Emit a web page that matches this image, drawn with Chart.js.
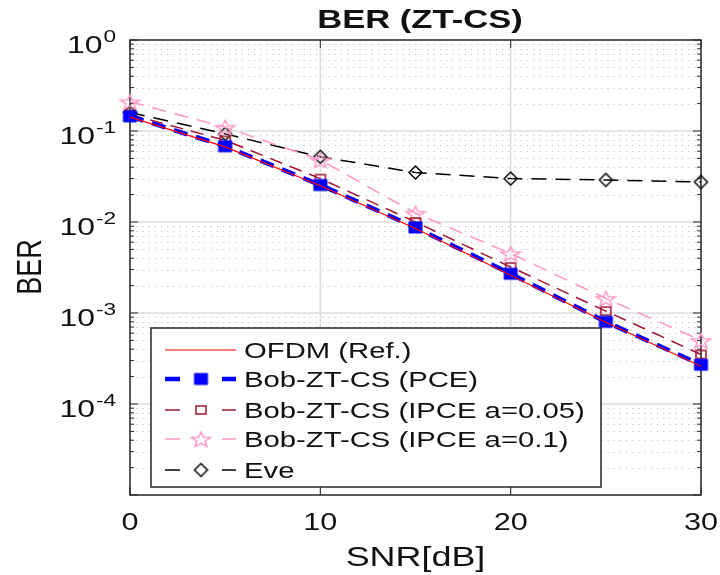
<!DOCTYPE html>
<html>
<head>
<meta charset="utf-8">
<script src="https://cdn.jsdelivr.net/npm/chart.js@4.4.0/dist/chart.umd.min.js"></script>
<style>
  body { margin: 0; background: #fff; }
  #wrap { width: 720px; height: 575px; }
</style>
</head>
<body>
<div id="wrap"><canvas id="myChart"></canvas></div>
<script>
// values
const snr = [0, 5, 10, 15, 20, 25, 30];
const berOfdm = [0.142, 0.067, 0.025, 0.0085, 0.0026, 0.00079, 0.00026];
const berPce = [0.145, 0.068, 0.0255, 0.0087, 0.0027, 0.0008, 0.00027];
const berIpce05 = [0.152, 0.079, 0.030, 0.0100, 0.0032, 0.00105, 0.00035];
const berIpce1 = [0.21, 0.11, 0.048, 0.0125, 0.0045, 0.00145, 0.0005];
const berEve = [0.16, 0.093, 0.052, 0.035, 0.030, 0.029, 0.0275];
const seriesNames = ['OFDM (Ref.)', 'Bob-ZT-CS (PCE)', 'Bob-ZT-CS (IPCE a=0.05)', 'Bob-ZT-CS (IPCE a=0.1)', 'Eve'];
const xTicks = [0, 10, 20, 30];
const yTickExp = [0, -1, -2, -3, -4];

const SX = 1.33; // the figure text is stretched sideways
const FONT = '"Liberation Sans", Arial, Helvetica, sans-serif';

function makeMarker(kind, w, h, color, lw) {
  const c = document.createElement('canvas');
  c.width = w + 4; c.height = h + 4;
  const g = c.getContext('2d');
  const cx = c.width / 2, cy = c.height / 2;
  g.strokeStyle = color; g.fillStyle = color; g.lineWidth = lw;
  g.beginPath();
  if (kind === 'square') {
    g.rect(cx - w / 2, cy - h / 2, w, h);
  } else if (kind === 'diamond') {
    g.moveTo(cx, cy - h / 2); g.lineTo(cx + w / 2, cy); g.lineTo(cx, cy + h / 2); g.lineTo(cx - w / 2, cy);
    g.closePath();
  } else if (kind === 'star') {
    for (let i = 0; i < 10; i++) {
      const r = i % 2 === 0 ? 1 : 0.42;
      const ang = -Math.PI / 2 + i * Math.PI / 5;
      const px = cx + Math.cos(ang) * r * w / 2;
      const py = cy + 1 + Math.sin(ang) * r * h / 2 * 1.05;
      if (i === 0) g.moveTo(px, py); else g.lineTo(px, py);
    }
    g.closePath();
  }
  if (kind === 'fill') { g.rect(cx - w / 2, cy - h / 2, w, h); g.fill(); }
  g.stroke();
  return c;
}

const mkBlue = makeMarker('fill', 13, 11, '#0000ff', 1);
const mkRed = makeMarker('square', 10, 8, '#a2142f', 1.5);
const mkStar = makeMarker('star', 20, 15, '#ff99c8', 1.5);
const mkDia = makeMarker('diamond', 13, 13, '#000000', 1.5);

function pts(vals) { return snr.map((s, i) => ({x: s, y: vals[i]})); }

function txt(ctx, s, x, y, size, align, bold) {
  ctx.save();
  ctx.translate(x, y);
  ctx.scale(SX, 1);
  ctx.font = (bold ? 'bold ' : '') + size + 'px ' + FONT;
  ctx.textAlign = align;
  ctx.textBaseline = 'alphabetic';
  ctx.fillStyle = '#111';
  ctx.fillText(s, 0, 0);
  ctx.restore();
}

function seg(ctx, x1, y1, x2, y2) {
  ctx.beginPath(); ctx.moveTo(x1, y1); ctx.lineTo(x2, y2); ctx.stroke();
}

const berPlugin = {
  id: 'berPlugin',
  beforeDatasetsDraw(chart) {
    const ctx = chart.ctx, a = chart.chartArea, x = chart.scales.x, y = chart.scales.y;
    ctx.save();
    // minor grid (dotted)
    ctx.strokeStyle = '#c2c2c2'; ctx.lineWidth = 1; ctx.setLineDash([1.2, 5]);
    for (let e = -5; e < 0; e++) {
      for (let m = 2; m <= 9; m++) {
        const py = Math.round(y.getPixelForValue(m * Math.pow(10, e))) + 0.5;
        seg(ctx, a.left, py, a.right, py);
      }
    }
    // major grid
    ctx.setLineDash([]); ctx.strokeStyle = '#dcdcdc'; ctx.lineWidth = 1.5;
    for (let e = -4; e < 0; e++) {
      const py = y.getPixelForValue(Math.pow(10, e));
      seg(ctx, a.left, py, a.right, py);
    }
    xTicks.slice(1, -1).forEach(v => {
      const px = x.getPixelForValue(v);
      seg(ctx, px, a.top, px, a.bottom);
    });
    // box and ticks
    ctx.strokeStyle = '#262626'; ctx.lineWidth = 1.5;
    ctx.strokeRect(a.left, a.top, a.right - a.left, a.bottom - a.top);
    ctx.lineWidth = 1;
    for (let e = -5; e <= 0; e++) {
      for (let m = 1; m <= 9; m++) {
        if (e === 0 && m > 1) continue;
        const py = y.getPixelForValue(m * Math.pow(10, e));
        const len = m === 1 ? 8 : 4;
        seg(ctx, a.left, py, a.left + len, py);
        seg(ctx, a.right, py, a.right - len, py);
      }
    }
    xTicks.forEach(v => {
      const px = x.getPixelForValue(v);
      seg(ctx, px, a.bottom, px, a.bottom - 8);
      seg(ctx, px, a.top, px, a.top + 8);
    });
    ctx.restore();
  },
  afterDatasetsDraw(chart) {
    const ctx = chart.ctx, a = chart.chartArea, x = chart.scales.x, y = chart.scales.y;
    ctx.save();
    // tick labels
    xTicks.forEach(v => txt(ctx, String(v), x.getPixelForValue(v), 530, 23, 'center'));
    yTickExp.forEach(e => {
      const py = y.getPixelForValue(Math.pow(10, e));
      const ex = String(e);
      ctx.font = '17px ' + FONT;
      const ew = ctx.measureText(ex).width * SX;
      txt(ctx, ex, 116, py + 2, 17, 'right');
      txt(ctx, '10', 116 - ew - 1, py + 13, 24, 'right');
    });
    // titles
    txt(ctx, 'BER (ZT-CS)', 420, 28, 26, 'center', true);
    txt(ctx, 'SNR[dB]', (a.left + a.right) / 2, 566, 27, 'center');
    ctx.save();
    ctx.translate(28, 267);
    ctx.scale(SX, 1);
    ctx.rotate(-Math.PI / 2);
    ctx.font = '27px ' + FONT;
    ctx.textAlign = 'center';
    ctx.fillStyle = '#111';
    ctx.fillText('BER', 0, 10);
    ctx.restore();

    // legend
    const lx = 151, ly = 328, lw = 450, lh = 159;
    ctx.fillStyle = '#fff';
    ctx.fillRect(lx, ly, lw, lh);
    ctx.strokeStyle = '#262626'; ctx.lineWidth = 1.5;
    ctx.strokeRect(lx, ly, lw, lh);
    const rows = [350, 379, 410, 439, 470];
    const styles = [
      {color: '#ff0000', w: 1.2, mk: null},
      {color: '#0000ff', w: 4.5, mk: mkBlue},
      {color: '#a2142f', w: 1.5, mk: mkRed},
      {color: '#ff99c8', w: 1.5, mk: mkStar},
      {color: '#000000', w: 1.5, mk: mkDia}
    ];
    rows.forEach((ry, i) => {
      const st = styles[i];
      ctx.strokeStyle = st.color; ctx.lineWidth = st.w;
      if (!st.mk) {
        seg(ctx, 165, ry, 236, ry);
      } else {
        seg(ctx, 165, ry, 180, ry);
        seg(ctx, 222, ry, 236, ry);
        ctx.drawImage(st.mk, 201 - st.mk.width / 2, ry - st.mk.height / 2);
      }
      txt(ctx, seriesNames[i], 244, ry + 8, 22, 'left');
    });
    ctx.restore();
  }
};

function lineSet(i, vals, color, width, dash, marker) {
  return {
    label: seriesNames[i],
    data: pts(vals),
    borderColor: color,
    backgroundColor: color,
    borderWidth: width,
    borderDash: dash,
    pointStyle: marker || 'circle',
    pointRadius: marker ? 6 : 0,
    pointHoverRadius: 0,
    tension: 0,
    fill: false,
    clip: false
  };
}

const ctx = document.getElementById('myChart');
new Chart(ctx, {
  type: 'line',
  data: {
    datasets: [
      lineSet(0, berOfdm, '#ff0000', 1.2, [], null),
      lineSet(1, berPce, '#0000ff', 4.5, [14, 9], mkBlue),
      lineSet(2, berIpce05, '#a2142f', 1.5, [13, 8], mkRed),
      lineSet(3, berIpce1, '#ff99c8', 1.6, [14, 9], mkStar),
      lineSet(4, berEve, '#000000', 1.5, [15, 9], mkDia)
    ]
  },
  options: {
    responsive: true,
    maintainAspectRatio: false,
    animation: false,
    layout: { padding: { left: 130, right: 19, top: 40, bottom: 80 } },
    scales: {
      x: { type: 'linear', min: 0, max: 30, display: false },
      y: { type: 'logarithmic', min: 1e-5, max: 1, display: false }
    },
    plugins: {
      legend: { display: false },
      tooltip: { enabled: false }
    }
  },
  plugins: [berPlugin]
});
</script>
</body>
</html>
